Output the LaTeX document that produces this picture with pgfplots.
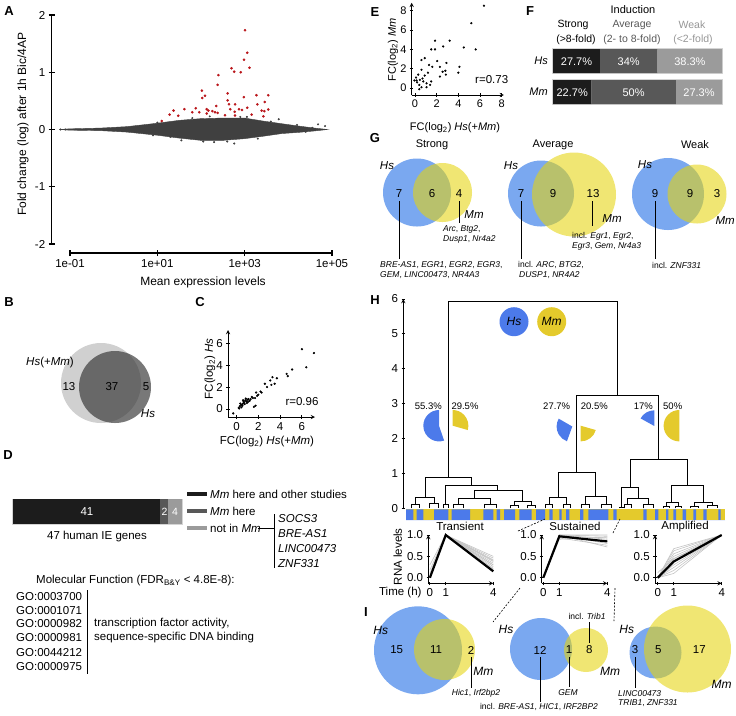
\documentclass[border=0pt]{standalone}
\usepackage{pgfplots}
\pgfplotsset{compat=1.18}
\usepackage{fontspec}
\setmainfont{Liberation Sans}
\definecolor{vblue}{RGB}{122,168,240}
\definecolor{vyel}{RGB}{229,212,14}
\definecolor{hblue}{RGB}{76,122,234}
\definecolor{hyel}{RGB}{228,202,44}
\definecolor{cloud}{RGB}{64,64,64}
\definecolor{ared}{RGB}{185,20,25}
\definecolor{fblack}{RGB}{28,28,28}
\definecolor{fdark}{RGB}{88,88,88}
\definecolor{flight}{RGB}{155,155,155}
\definecolor{bord}{RGB}{212,212,212}
\definecolor{dgray}{RGB}{52,52,52}
\definecolor{lgray}{RGB}{208,208,208}
\definecolor{wgray}{RGB}{150,150,150}
\definecolor{lgline}{RGB}{195,195,195}
\newcommand{\fs}[1]{\fontsize{#1}{#1}\selectfont}
\pgfplotsset{
  myax/.style={scale only axis, anchor=south west, clip=false,
    /pgf/number format/assume math mode=true,
    axis line style={line width=0.9pt,-},
    tick style={line width=0.9pt, black},
    tick align=outside, major tick length=3.5pt},
  gl/.style={lgline, line width=0.6pt},
  bl/.style={black, line width=2.2pt},
}
\begin{document}
\begin{tikzpicture}
\path[use as bounding box] (0pt,0pt) rectangle (736pt,-715pt);

% ---------------- Panel A
\begin{axis}[myax, at={(51.7pt,-244pt)}, width=280.3pt, height=229pt,
  xmin=-1.42, xmax=5, ymin=-2, ymax=2,
  axis y line=left, axis x line=none,
  ytick={-2,-1,0,1,2}, yticklabels={-2,-1,0,1,2},
  major tick length=6pt, yticklabel style={font=\fs{11.5}},
  axis line style={line width=1.1pt,-}, tick style={line width=1.1pt}]
\addplot[fill=cloud, draw=cloud, line width=0.4pt] coordinates {
(-1.25,0) (-1,0.012) (-0.3,0.025) (0.3,0.05) (1,0.11) (1.5,0.16) (2,0.19) (2.5,0.2) (3,0.2) (3.4,0.15) (3.86,0.1) (4.24,0.06) (4.6,0.025) (4.9,0)
(4.6,-0.025) (4.24,-0.05) (3.86,-0.07) (3.4,-0.12) (3,-0.16) (2.5,-0.19) (2,-0.19) (1.5,-0.15) (1,-0.1) (0.3,-0.045) (-0.3,-0.02) (-1,-0.012)} -- cycle;
\addplot[only marks, mark=*, mark size=0.8, color=cloud] coordinates {
(-1.22,0) (-1.1,0) (4.68,0.09) (4.84,0.06) (2.76,-0.245) (3.78,0.18) (1.55,-0.19) (2.3,-0.22) (2.05,-0.21) (2.6,-0.21)
(3.05,0.22) (4.4,-0.04) (4.55,0.03) (2.2,0.23) (1.8,0.2) (3.3,-0.16) (2.9,0.22) (1.0,0.12) (0.9,-0.1) (4.2,0.08) (1.3,-0.13) (3.6,0.14)};
\addplot[only marks, mark=*, mark size=1.1, color=ared] coordinates {
(3.008,1.735) (3.06,1.34) (2.985,1.22) (3.11,1.08) (2.70,1.07) (2.76,1.01) (2.91,1.00) (2.40,0.95) (2.38,0.78)
(2.02,0.68) (2.09,0.59) (2.03,0.55) (2.61,0.63) (2.61,0.51) (2.98,0.565) (3.27,0.60) (3.54,0.60) (2.64,0.44)
(2.78,0.44) (3.29,0.44) (3.46,0.48) (3.06,0.38) (2.87,0.355) (2.67,0.355) (2.94,0.34) (3.54,0.35) (3.39,0.33)
(3.45,0.32) (1.62,0.355) (1.88,0.37) (1.37,0.33) (1.28,0.26) (1.48,0.24) (1.10,0.15) (1.80,0.30) (2.13,0.355)
(2.17,0.33) (2.26,0.32) (2.35,0.41) (2.32,0.30) (2.38,0.29) (2.13,0.28) (2.55,0.25) (2.77,0.31) (2.78,0.245)
(3.16,0.26) (3.43,0.23) (1.96,0.30)};
\end{axis}
\begin{axis}[myax, at={(70pt,-253pt)}, width=262pt, height=10pt,
  xmin=-1, xmax=5, ymin=0, ymax=1,
  axis x line=bottom, axis y line=none,
  xtick={-1,1,3,5}, xticklabels={1e-01,1e+01,1e+03,1e+05},
  major tick length=6pt, xticklabel style={font=\fs{11.5}},
  axis line style={line width=1.1pt,-}, tick style={line width=1.1pt}]
\addplot[draw=none] coordinates {(0,0.5)};
\end{axis}

% ---------------- Panel C
\begin{axis}[myax, at={(228pt,-417pt)}, width=87pt, height=87pt,
  xmin=-0.78, xmax=7.2, ymin=-0.73, ymax=7.2, axis lines=left,
  xtick={0,2,4,6}, ytick={0,2,4,6}, ticklabel style={font=\fs{11.5}}]
\addplot[only marks, mark=*, mark size=0.9, black] coordinates {
(7.1,5.1) (6.0,5.45) (6.4,3.8) (5.1,3.6) (4.7,3.0) (4.6,3.2) (3.7,2.8) (3.3,2.9) (3.1,2.6) (3.5,2.3)
(3.2,2.2) (2.8,2.0) (2.6,2.3) (2.2,1.6) (2.0,1.3) (1.8,1.5) (1.9,1.2) (1.7,1.0) (1.5,1.0) (1.3,0.9)
(1.1,0.9) (1.0,0.85) (0.9,0.7) (0.8,0.8) (0.7,0.6) (0.6,0.5) (0.5,0.4) (0.4,0.35) (0.3,0.25) (0.2,0.1)
(0.35,0.5) (0.55,0.3) (0.75,0.45) (0.95,0.55) (1.2,0.75) (1.6,0.2) (0.45,0.15) (0.65,0.7) (0.25,0.05)
(-0.3,-0.4) (1.4,1.1) (0.85,0.95) (2.3,1.5) (1.75,0.3) (0.6,0.8) (1.05,0.65)};
\end{axis}

% ---------------- Panel D bar
\begin{axis}[myax, at={(13pt,-524pt)}, width=169pt, height=25pt,
  xmin=0, xmax=47, ymin=-0.5, ymax=0.5, hide axis, xbar stacked, bar width=25pt]
\addplot[fill=fblack, draw=none] coordinates {(41,0)};
\addplot[fill=fdark, draw=none] coordinates {(2,0)};
\addplot[fill=flight, draw=none] coordinates {(4,0)};
\draw[bord, line width=1pt] (axis cs:0,-0.5) rectangle (axis cs:47,0.5);
\end{axis}

% ---------------- Panel E
\begin{axis}[myax, at={(411.7pt,-95pt)}, width=92.2pt, height=92.2pt,
  xmin=-0.3, xmax=8.2, ymin=-0.7, ymax=8.8, axis lines=left,
  xtick={0,2,4,6,8}, ytick={0,2,4,6,8}, ticklabel style={font=\fs{11}}]
\addplot[only marks, mark=*, mark size=0.9, black] coordinates {
(6.36,8.5) (5.2,6.7) (5.6,4.0) (4.5,4.2) (3.2,4.9) (1.85,4.9) (1.5,4.0) (1.85,4.0) (2.6,4.3) (2.05,2.8)
(2.9,2.6) (0.9,3.1) (0.6,2.9) (1.3,2.4) (1.6,2.2) (2.3,2.2) (2.55,1.7) (4.1,2.2) (4.0,1.6) (2.8,1.8)
(2.3,1.2) (2.85,1.4) (0.6,1.9) (0.3,1.4) (0.1,1.1) (0.45,0.86) (0.77,0.7) (1.07,0.5) (1.4,0.34) (0.2,0.6)
(0.4,0.34) (0.6,0.1) (-0.05,0.8) (0.9,1.3) (1.2,1.6) (0.4,-0.1) (0.15,0.8) (0.7,1.0) (1.07,0.1) (1.5,0.7)};
\end{axis}

% ---------------- Panel F bars
\begin{axis}[myax, at={(553pt,-104pt)}, width=169pt, height=55pt,
  xmin=0, xmax=100, ymin=-0.387, ymax=1.387, hide axis, xbar stacked, bar width=24pt]
\addplot[fill=fblack, draw=none] coordinates {(27.7,1) (22.7,0)};
\addplot[fill=fdark, draw=none] coordinates {(34,1) (50,0)};
\addplot[fill=flight, draw=none] coordinates {(38.3,1) (27.3,0)};
\draw[bord, line width=1.2pt] (axis cs:0,0.613) rectangle (axis cs:100,1.387);
\draw[bord, line width=1.2pt] (axis cs:0,-0.387) rectangle (axis cs:100,0.387);
\end{axis}

% ---------------- Panel H dendrogram
\begin{axis}[myax, at={(403.3pt,-508.3pt)}, width=326.7pt, height=209.3pt,
  xmin=403.3, xmax=730, ymin=0, ymax=6, axis y line=left, axis x line=none,
  ytick={0,1,2,3,4,5,6}, yticklabel style={font=\fs{11.5}}]
\addplot[black, line width=0.8pt, unbounded coords=jump] coordinates {
(448.3,0.9) (448.3,5.92) (617.7,5.92) (617.7,3.23) (0,nan)
(425,0.31) (425,0.9) (471.7,0.9) (471.7,0.65) (0,nan)
(415.7,0.1) (415.7,0.31) (434.3,0.31) (434.3,0.14) (0,nan)
(445.7,0.1) (445.7,0.65) (497.7,0.65) (497.7,0.5) (0,nan)
(474.3,0.29) (474.3,0.5) (522.3,0.5) (522.3,0.19) (0,nan)
(458.3,0.1) (458.3,0.29) (490,0.29) (490,0.1) (0,nan)
(514.3,0.08) (514.3,0.19) (531,0.19) (531,0.08) (0,nan)
(576.7,1.03) (576.7,3.23) (658.3,3.23) (658.3,1.40) (0,nan)
(558.3,0.31) (558.3,1.03) (595.7,1.03) (595.7,0.33) (0,nan)
(549.3,0.1) (549.3,0.31) (566.7,0.31) (566.7,0.1) (0,nan)
(585,0.1) (585,0.33) (606.7,0.33) (606.7,0.1) (0,nan)
(630,0.6) (630,1.40) (687.7,1.40) (687.7,0.65) (0,nan)
(621.7,0.03) (621.7,0.6) (638.3,0.6) (638.3,0.29) (0,nan)
(627.7,0.1) (627.7,0.29) (648.3,0.29) (648.3,0.1) (0,nan)
(671.7,0.17) (671.7,0.65) (703.3,0.65) (703.3,0.17) (0,nan)
(666,0.05) (666,0.17) (678.3,0.17) (678.3,0.05) (0,nan)
(694.3,0.05) (694.3,0.17) (712.7,0.17) (712.7,0.08) (0,nan)
(411.7,0) (411.7,0.1) (419.7,0.1) (419.7,0) (0,nan)
(429.8,0) (429.8,0.14) (438.8,0.14) (438.8,0) (0,nan)
(443.2,0) (443.2,0.1) (448.2,0.1) (448.2,0) (0,nan)
(453.3,0) (453.3,0.1) (463.3,0.1) (463.3,0) (0,nan)
(484,0) (484,0.1) (496,0.1) (496,0) (0,nan)
(510.3,0) (510.3,0.08) (518.3,0.08) (518.3,0) (0,nan)
(527,0) (527,0.08) (535,0.08) (535,0) (0,nan)
(545.8,0) (545.8,0.1) (552.8,0.1) (552.8,0) (0,nan)
(563.2,0) (563.2,0.1) (570.2,0.1) (570.2,0) (0,nan)
(581,0) (581,0.1) (589,0.1) (589,0) (0,nan)
(601.7,0) (601.7,0.1) (611.7,0.1) (611.7,0) (0,nan)
(619.7,0) (619.7,0.03) (623.7,0.03) (623.7,0) (0,nan)
(624.2,0) (624.2,0.1) (631.2,0.1) (631.2,0) (0,nan)
(643.3,0) (643.3,0.1) (653.3,0.1) (653.3,0) (0,nan)
(663,0) (663,0.05) (669,0.05) (669,0) (0,nan)
(675.3,0) (675.3,0.05) (681.3,0.05) (681.3,0) (0,nan)
(690.3,0) (690.3,0.05) (698.3,0.05) (698.3,0) (0,nan)
(707.7,0) (707.7,0.08) (717.7,0.08) (717.7,0)};
\end{axis}

% strip
\begin{axis}[myax, at={(406pt,-520pt)}, width=319pt, height=10.7pt,
  xmin=406, xmax=725, ymin=0, ymax=1, hide axis]
\addplot[fill=hyel, draw=none] coordinates {(406,0) (406,1) (725,1) (725,0)} -- cycle;
\addplot[const plot, fill=hblue, draw=none] coordinates {
(406,1) (413.3,0) (416.7,1) (423.3,0) (434,1) (448.3,0) (451.7,1) (470,0) (483.3,1) (493.3,0)
(496.7,1) (500,0) (504,1) (515,0) (519.3,1) (531.7,0) (536,1) (545,0) (549.3,1) (552.7,0)
(559.3,1) (561.7,0) (566,1) (569.3,0) (580,1) (583.3,0) (588.3,1) (608.3,0) (613.3,1) (616.7,0)
(643.3,1) (646.7,0) (655,1) (658.3,0) (666,1) (668.3,0) (673.3,1) (676,0) (682.7,1) (686,0)
(693.3,1) (696,0) (703.3,1) (706.7,0) (718.3,1) (720.7,0) (725,0)} \closedcycle;
\end{axis}

% ---------------- H line plots
\begin{axis}[myax, at={(428.3pt,-583.3pt)}, width=65pt, height=48.3pt,
  xmin=-0.1, xmax=4, ymin=-0.13, ymax=1, axis lines=left,
  xtick={0,1,4}, ytick={0,0.5,1}, yticklabels={0.0,0.5,1.0}, ticklabel style={font=\fs{11.5}}]
\addplot[gl] coordinates {(0,0) (1,1) (4,0.5)};
\addplot[gl] coordinates {(0,0) (1,1) (4,0.46)};
\addplot[gl] coordinates {(0,0) (1,1) (4,0.42)};
\addplot[gl] coordinates {(0,0) (1,1) (4,0.38)};
\addplot[gl] coordinates {(0,0) (1,1) (4,0.34)};
\addplot[gl] coordinates {(0,0) (1,1) (4,0.3)};
\addplot[gl] coordinates {(0,0) (1,1) (4,0.26)};
\addplot[gl] coordinates {(0,0) (1,1) (4,0.22)};
\addplot[gl] coordinates {(0,0) (1,0.97) (4,0.18)};
\addplot[gl] coordinates {(0,0.3) (1,1) (4,0.4)};
\addplot[gl] coordinates {(0,0.18) (1,1) (4,0.3)};
\addplot[gl] coordinates {(0,0.1) (1,1) (4,0.2)};
\addplot[bl] coordinates {(0,0) (1,1) (4,0.15)};
\end{axis}
\begin{axis}[myax, at={(541.7pt,-583.3pt)}, width=65.6pt, height=48.3pt,
  xmin=-0.1, xmax=4, ymin=-0.13, ymax=1, axis lines=left,
  xtick={0,1,4}, ytick={0,0.5,1}, yticklabels={0.0,0.5,1.0}, ticklabel style={font=\fs{11.5}}]
\addplot[gl] coordinates {(0,0) (1,1) (4,1)};
\addplot[gl] coordinates {(0,0) (1,1) (4,0.97)};
\addplot[gl] coordinates {(0,0) (1,0.98) (4,0.93)};
\addplot[gl] coordinates {(0,0) (1,1) (4,0.9)};
\addplot[gl] coordinates {(0,0) (1,0.95) (4,0.86)};
\addplot[gl] coordinates {(0,0) (1,1) (4,0.8)};
\addplot[gl] coordinates {(0,0) (1,0.93) (4,0.76)};
\addplot[gl] coordinates {(0,0) (1,1) (4,0.72)};
\addplot[gl] coordinates {(0,0) (1,0.9) (4,0.95)};
\addplot[bl] coordinates {(0,0) (1,0.97) (4,0.85)};
\end{axis}
\begin{axis}[myax, at={(655pt,-583.3pt)}, width=66.7pt, height=48.3pt,
  xmin=-0.17, xmax=4, ymin=-0.13, ymax=1, axis lines=left,
  xtick={0,1,4}, ytick={0,0.5,1}, yticklabels={0.0,0.5,1.0}, ticklabel style={font=\fs{11.5}}]
\addplot[gl] coordinates {(0,0) (1,0.68) (4,1)};
\addplot[gl] coordinates {(0,0) (1,0.63) (4,1)};
\addplot[gl] coordinates {(0,0) (1,0.56) (4,1)};
\addplot[gl] coordinates {(0,0) (1,0.5) (4,1)};
\addplot[gl] coordinates {(0,0) (1,0.44) (4,1)};
\addplot[gl] coordinates {(0,0) (1,0.3) (4,1)};
\addplot[gl] coordinates {(0,0) (1,0.24) (4,1)};
\addplot[gl] coordinates {(0,0) (1,0.17) (4,1)};
\addplot[gl] coordinates {(0,0.12) (1,0.45) (4,1)};
\addplot[gl] coordinates {(0,0) (1,0.1) (4,1)};
\addplot[bl] coordinates {(0,0) (1,0.38) (4,1)};
\end{axis}

% ---------------- canvas: Venns, pies, texts
\begin{axis}[scale only axis, at={(0pt,0pt)}, anchor=north west, width=736pt, height=715pt,
  xmin=0, xmax=736, ymin=0, ymax=715, y dir=reverse, hide axis, clip=false]
% B
\fill[lgray] (101,383) circle[radius=40pt];
\fill[dgray, fill opacity=0.667] (115,387) circle[radius=36pt];
% G
\fill[vblue] (417,192.5) circle[radius=34pt];
\fill[vyel, fill opacity=0.58] (442.5,192.5) circle[radius=29.5pt];
\fill[vblue] (541,193.5) circle[radius=33pt];
\fill[vyel, fill opacity=0.58] (574,194.5) circle[radius=42pt];
\fill[vblue] (668,194) circle[radius=36pt];
\fill[vyel, fill opacity=0.58] (697,194) circle[radius=29.5pt];
% I
\fill[vblue] (418,650.3) circle[radius=44pt];
\fill[vyel, fill opacity=0.58] (444.5,649.5) circle[radius=30.5pt];
\fill[vblue] (541,649) circle[radius=31pt];
\fill[vyel, fill opacity=0.58] (586,650) circle[radius=22pt];
\fill[vblue] (655.5,652.5) circle[radius=26pt];
\fill[vyel, fill opacity=0.58] (687.5,649) circle[radius=43.5pt];
% H circles
\fill[hblue] (514,321.7) circle[radius=14.5pt];
\fill[hyel] (551.7,321.7) circle[radius=14.5pt];
% pies
\fill[hblue] (439,425.7) -- ++(90:15.7pt) arc[start angle=90, end angle=289, radius=15.7pt] -- cycle;
\fill[hyel] (452.7,425.7) -- ++(-16:15.7pt) arc[start angle=-16, end angle=90, radius=15.7pt] -- cycle;
\fill[hblue] (572.3,426.5) -- ++(150:15.7pt) arc[start angle=150, end angle=250, radius=15.7pt] -- cycle;
\fill[hyel] (580.7,425.7) -- ++(270:15.7pt) arc[start angle=270, end angle=344, radius=15.7pt] -- cycle;
\fill[hblue] (654.3,426) -- ++(90:15.7pt) arc[start angle=90, end angle=151, radius=15.7pt] -- cycle;
\fill[hyel] (679.3,425.7) -- ++(90:15.7pt) arc[start angle=90, end angle=270, radius=15.7pt] -- cycle;

% panel letters
\node[font=\fs{13}\bfseries] at (9,11) {A};
\node[font=\fs{13}\bfseries] at (9,302) {B};
\node[font=\fs{13}\bfseries] at (200,302) {C};
\node[font=\fs{13}\bfseries] at (8,455) {D};
\node[font=\fs{13}\bfseries] at (375,12) {E};
\node[font=\fs{13}\bfseries] at (530,11) {F};
\node[font=\fs{13}\bfseries] at (375,138) {G};
\node[font=\fs{13}\bfseries] at (375,300) {H};
\node[font=\fs{13}\bfseries] at (366,612) {I};

% A labels
\node[font=\fs{12}, rotate=90] at (23,124) {Fold change (log) after 1h Bic/4AP};
\node[font=\fs{12}] at (203,282) {Mean expression levels};

% B
\node[font=\fs{11.5}] at (50,363) {\textit{Hs}(+\textit{Mm})};
\node[font=\fs{11.5}] at (69,387) {13};
\node[font=\fs{11.5}] at (112,387) {37};
\node[font=\fs{11.5}] at (146,387) {5};
\node[font=\fs{11.5}] at (148,414) {\textit{Hs}};

% C
\node[font=\fs{11.5}, rotate=90] at (210,369) {FC(log\textsubscript{2}) \textit{Hs}};
\node[font=\fs{11.5}] at (267,442) {FC(log\textsubscript{2}) \textit{Hs}(+\textit{Mm})};
\node[font=\fs{11.5}] at (302,402) {r=0.96};

% D
\node[font=\fs{11.5}, white] at (87,511.5) {41};
\node[font=\fs{10.5}, white] at (164.5,511.5) {2};
\node[font=\fs{10.5}, white] at (175,511.5) {4};
\node[font=\fs{11.5}] at (97,537) {47 human IE genes};
\draw[fblack, line width=4.5pt] (187,494) -- (207,494);
\draw[fdark, line width=4.5pt] (187,511) -- (207,511);
\draw[flight, line width=4.5pt] (187,528) -- (207,528);
\node[font=\fs{11.5}, anchor=west, inner sep=0pt] at (210,494) {\textit{Mm} here and other studies};
\node[font=\fs{11.5}, anchor=west, inner sep=0pt] at (210,511) {\textit{Mm} here};
\node[font=\fs{11.5}, anchor=west, inner sep=0pt] at (210,528) {not in \textit{Mm}};
\draw[black, line width=0.8pt] (258,528) -- (274.5,528);
\draw[black, line width=1pt] (274.5,514) -- (274.5,568);
\node[font=\fs{11.5}\itshape, anchor=west, inner sep=0pt] at (278,519) {SOCS3};
\node[font=\fs{11.5}\itshape, anchor=west, inner sep=0pt] at (278,534) {BRE-AS1};
\node[font=\fs{11.5}\itshape, anchor=west, inner sep=0pt] at (278,549) {LINC00473};
\node[font=\fs{11.5}\itshape, anchor=west, inner sep=0pt] at (278,564) {ZNF331};
\node[font=\fs{11.5}, anchor=west, inner sep=0pt] at (36,581) {Molecular Function (FDR\textsubscript{B\&Y} < 4.8E-8):};
\node[font=\fs{11.5}, anchor=west, inner sep=0pt] at (16,597) {GO:0003700};
\node[font=\fs{11.5}, anchor=west, inner sep=0pt] at (16,610.5) {GO:0001071};
\node[font=\fs{11.5}, anchor=west, inner sep=0pt] at (16,624) {GO:0000982};
\node[font=\fs{11.5}, anchor=west, inner sep=0pt] at (16,638) {GO:0000981};
\node[font=\fs{11.5}, anchor=west, inner sep=0pt] at (16,652.5) {GO:0044212};
\node[font=\fs{11.5}, anchor=west, inner sep=0pt] at (16,667) {GO:0000975};
\draw[black, line width=1pt] (87,590) -- (87,674);
\node[font=\fs{11.5}, anchor=west, inner sep=0pt] at (94,624) {transcription factor activity,};
\node[font=\fs{11.5}, anchor=west, inner sep=0pt] at (94,638) {sequence-specific DNA binding};

% E
\node[font=\fs{11}, rotate=90] at (393,50) {FC(log\textsubscript{2}) \textit{Mm}};
\node[font=\fs{11}] at (455,128) {FC(log\textsubscript{2}) \textit{Hs}(+\textit{Mm})};
\node[font=\fs{11.5}] at (491.7,80) {r=0.73};

% F
\node[font=\fs{11}] at (633,10) {Induction};
\node[font=\fs{10.5}] at (573,25) {Strong};
\node[font=\fs{10.5}] at (576,40) {(>8-fold)};
\node[font=\fs{10.5}, fdark] at (632,25) {Average};
\node[font=\fs{10.5}, fdark] at (632,40) {(2- to 8-fold)};
\node[font=\fs{10.5}, wgray] at (692,25) {Weak};
\node[font=\fs{10.5}, wgray] at (693,40) {(<2-fold)};
\node[font=\fs{11}\itshape, anchor=east, inner sep=0pt] at (548,61) {Hs};
\node[font=\fs{11}\itshape, anchor=east, inner sep=0pt] at (548,92) {Mm};
\node[font=\fs{11}, white] at (576.5,61.5) {27.7\%};
\node[font=\fs{11}, white] at (628.7,61.5) {34\%};
\node[font=\fs{11}, white] at (689.9,61.5) {38.3\%};
\node[font=\fs{11}, white] at (572.2,92.5) {22.7\%};
\node[font=\fs{11}, white] at (633.6,92.5) {50\%};
\node[font=\fs{11}, white] at (699,92.5) {27.3\%};

% G
\node[font=\fs{11}] at (432,145) {Strong};
\node[font=\fs{11}] at (553,145) {Average};
\node[font=\fs{11}] at (695,145) {Weak};
\node[font=\fs{11.5}\itshape] at (387,166) {Hs};
\node[font=\fs{11.5}\itshape] at (511,166) {Hs};
\node[font=\fs{11.5}\itshape] at (645,165) {Hs};
\node[font=\fs{11.5}\itshape] at (474,215) {Mm};
\node[font=\fs{11.5}\itshape] at (612,219) {Mm};
\node[font=\fs{11.5}\itshape, anchor=east, inner sep=0pt] at (735,221) {Mm};
\node[font=\fs{11.5}] at (399,194) {7};
\node[font=\fs{11.5}] at (432,194) {6};
\node[font=\fs{11.5}] at (459,194) {4};
\node[font=\fs{11.5}] at (521,194) {7};
\node[font=\fs{11.5}] at (553,194) {9};
\node[font=\fs{11.5}] at (593,194) {13};
\node[font=\fs{11.5}] at (655,194) {9};
\node[font=\fs{11.5}] at (690,194) {9};
\node[font=\fs{11.5}] at (717,194) {3};
\draw[black, line width=0.8pt] (399,201) -- (399,259);
\draw[black, line width=0.8pt] (459,201) -- (459,223);
\draw[black, line width=0.8pt] (521,201) -- (521,259);
\draw[black, line width=0.8pt] (592.7,201) -- (592.7,226);
\draw[black, line width=0.8pt] (655,201) -- (655,259);
\node[font=\fs{8.5}, anchor=west, inner sep=0pt] at (443,229) {\textit{Arc}, \textit{Btg2},};
\node[font=\fs{8.5}, anchor=west, inner sep=0pt] at (443,239) {\textit{Dusp1}, \textit{Nr4a2}};
\node[font=\fs{8.5}\itshape, anchor=west, inner sep=0pt] at (380,265) {BRE-AS1\upshape, \itshape EGR1\upshape, \itshape EGR2\upshape, \itshape EGR3\upshape,};
\node[font=\fs{8.5}\itshape, anchor=west, inner sep=0pt] at (380,275) {GEM\upshape, \itshape LINC00473\upshape, \itshape NR4A3};
\node[font=\fs{8.5}, anchor=west, inner sep=0pt] at (518,265) {incl. \textit{ARC}, \textit{BTG2},};
\node[font=\fs{8.5}, anchor=west, inner sep=0pt] at (519,275) {\textit{DUSP1}, \textit{NR4A2}};
\node[font=\fs{8.5}, anchor=west, inner sep=0pt] at (572,236.5) {incl. \textit{Egr1}, \textit{Egr2},};
\node[font=\fs{8.5}, anchor=west, inner sep=0pt] at (572,246) {\textit{Egr3}, \textit{Gem}, \textit{Nr4a3}};
\node[font=\fs{8.5}, anchor=west, inner sep=0pt] at (652,265) {incl. \textit{ZNF331}};

% H
\node[font=\fs{12}\itshape] at (514,321.7) {Hs};
\node[font=\fs{12}\itshape] at (551.7,321.7) {Mm};
\node[font=\fs{9.5}] at (428.3,406) {55.3\%};
\node[font=\fs{9.5}] at (465,406) {29.5\%};
\node[font=\fs{9.5}] at (556.7,406) {27.7\%};
\node[font=\fs{9.5}] at (594.3,406) {20.5\%};
\node[font=\fs{9.5}] at (643.3,406) {17\%};
\node[font=\fs{9.5}] at (672.7,406) {50\%};
\node[font=\fs{11.5}] at (460,526.7) {Transient};
\node[font=\fs{11.5}] at (575,526.7) {Sustained};
\node[font=\fs{11.5}] at (685,526.7) {Amplified};
\node[font=\fs{11.5}, rotate=90] at (397.7,556.7) {RNA levels};
\node[font=\fs{11.5}, anchor=east, inner sep=0pt] at (421.7,593) {Time (h)};
\draw[black, line width=0.6pt, dash pattern=on 2pt off 1.5pt] (518,531) -- (545,519);
\draw[black, line width=0.6pt, dash pattern=on 2pt off 1.5pt] (613,533) -- (620,519);
\draw[black, line width=0.6pt, dash pattern=on 2pt off 1.5pt] (520,588) -- (493,622);
\draw[black, line width=0.6pt, dash pattern=on 2pt off 1.5pt] (615,588) -- (614,621);

% I
\node[font=\fs{12}\itshape] at (380.7,630) {Hs};
\node[font=\fs{12}\itshape] at (483.3,671.7) {Mm};
\node[font=\fs{12}\itshape] at (506,629) {Hs};
\node[font=\fs{12}\itshape] at (610,671) {Mm};
\node[font=\fs{12}\itshape] at (626.7,629) {Hs};
\node[font=\fs{12}\itshape] at (721.7,684) {Mm};
\node[font=\fs{11.5}] at (396.7,650) {15};
\node[font=\fs{11.5}] at (436,650) {11};
\node[font=\fs{11.5}] at (471,650) {2};
\node[font=\fs{11.5}] at (540,650) {12};
\node[font=\fs{11.5}] at (569,650) {1};
\node[font=\fs{11.5}] at (589.3,650) {8};
\node[font=\fs{11.5}] at (635,650) {3};
\node[font=\fs{11.5}] at (658.3,650) {5};
\node[font=\fs{11.5}] at (699.3,650) {17};
\draw[black, line width=0.8pt] (471,657) -- (471,688);
\draw[black, line width=0.8pt] (540,657) -- (540,701.7);
\draw[black, line width=0.8pt] (569,657) -- (569,686.7);
\draw[black, line width=0.8pt] (589,643) -- (589,621.7);
\draw[black, line width=0.8pt] (635,657) -- (635,688.3);
\node[font=\fs{8.5}] at (476,693) {\textit{Hic1}, \textit{Irf2bp2}};
\node[font=\fs{8.5}\itshape] at (568,693) {GEM};
\node[font=\fs{8.5}] at (539,707) {incl. \textit{BRE-AS1}, \textit{HIC1}, \textit{IRF2BP2}};
\node[font=\fs{8.5}] at (587,616.7) {incl. \textit{Trib1}};
\node[font=\fs{8.5}\itshape, anchor=west, inner sep=0pt] at (618,693.3) {LINC00473};
\node[font=\fs{8.5}, anchor=west, inner sep=0pt] at (618,702.7) {\textit{TRIB1}, \textit{ZNF331}};
\end{axis}
\end{tikzpicture}
\end{document}
